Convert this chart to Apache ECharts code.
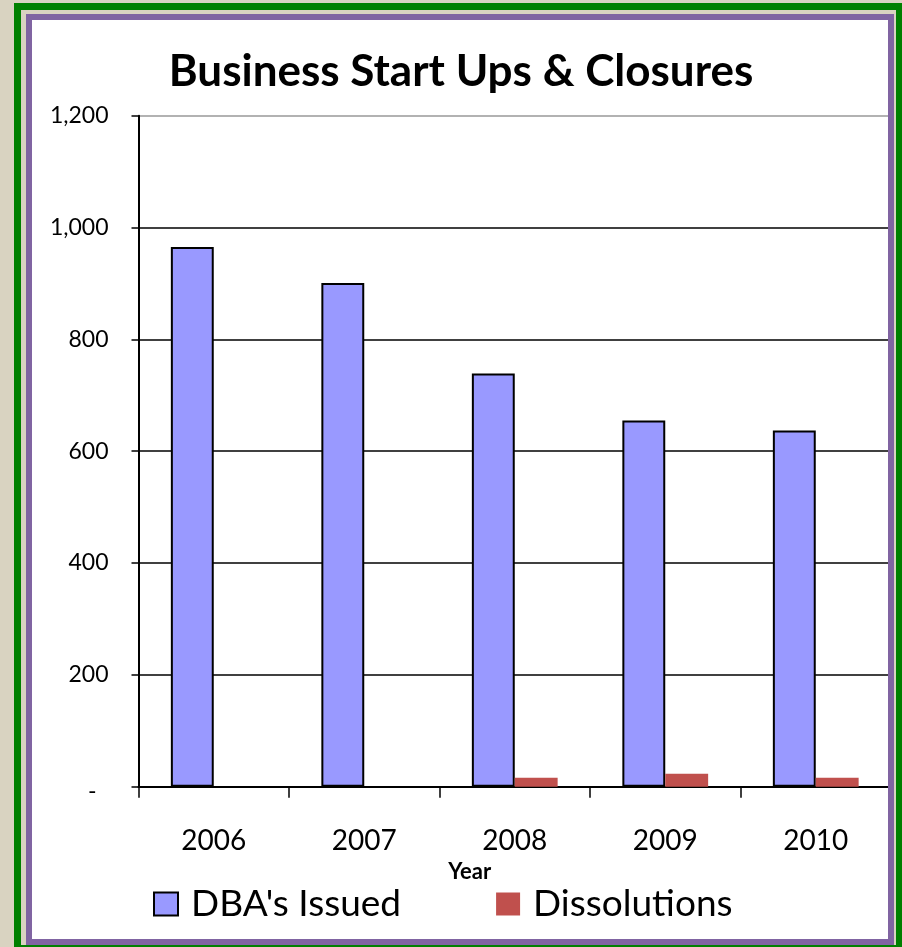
<!DOCTYPE html>
<html>
<head>
<meta charset="utf-8">
<script src="https://cdn.jsdelivr.net/npm/echarts@6/dist/echarts.min.js"></script>
<style>
  html, body { margin: 0; padding: 0; width: 902px; height: 947px; overflow: hidden; background: #d9d3c1; }
  #frameGreen { position: absolute; left: 14px; top: 3px; width: 875px; height: 935px; border: 7px solid #008000; }
  #paper { position: absolute; left: 32px; top: 20px; width: 856px; height: 919px; background: #ffffff; }
  #framePurple { position: absolute; left: 26px; top: 14px; width: 856px; height: 919px; border: 6px solid #8064a2; pointer-events: none; }
  #chart { position: absolute; left: 0; top: 0; width: 902px; height: 947px; }
</style>
</head>
<body>
<div id="frameGreen"></div>
<div id="paper"></div>
<div id="chart"></div>
<div id="framePurple"></div>
<script>
// Business registrations per year
const years = ['2006', '2007', '2008', '2009', '2010'];
const dbaIssued = [965, 901, 739, 655, 637];
const dissolutions = [null, null, 16, 23, 16];
const yTicks = { min: 0, max: 1200, step: 200 };

const FONT = 'Lato';

function yLabel(v) {
  if (v === 0) return '{z|-}';
  return v.toLocaleString('en-US');
}

const chart = echarts.init(document.getElementById('chart'), null, { renderer: 'canvas' });
chart.setOption({
  backgroundColor: 'transparent',
  animation: false,
  textStyle: { fontFamily: FONT },
  title: {
    text: 'Business Start Ups & Closures',
    left: 456,
    textAlign: 'center',
    top: 44,
    textStyle: { fontFamily: FONT, fontWeight: 'bold', fontSize: 44, lineHeight: 46, color: '#000' }
  },
  legend: {
    left: 148,
    top: 879,
    itemWidth: 24,
    itemHeight: 23,
    itemGap: 95,
    icon: 'rect',
    textStyle: { fontFamily: FONT, fontSize: 37, lineHeight: 40, color: '#000', padding: [0, 0, 0, 8] },
    data: ["DBA's Issued", 'Dissolutions']
  },
  grid: { left: 138.5, right: 11, top: 115.7, bottom: 160.3, containLabel: false },
  xAxis: {
    type: 'category',
    data: years,
    name: 'Year',
    nameLocation: 'middle',
    nameGap: 74,
    nameTextStyle: { fontFamily: FONT, fontWeight: 'bold', fontSize: 22, color: '#000', padding: [0, 90, 0, 0] },
    axisLine: { show: true, lineStyle: { color: '#000', width: 2 } },
    axisTick: { show: true, interval: 0, length: 11, lineStyle: { color: '#000', width: 1.5 } },
    axisLabel: { margin: 40, fontFamily: FONT, fontSize: 28, lineHeight: 28, color: '#000' }
  },
  yAxis: {
    type: 'value',
    min: yTicks.min,
    max: yTicks.max,
    interval: yTicks.step,
    axisLine: { show: true, lineStyle: { color: '#000', width: 2 } },
    axisTick: { show: true, length: 7, lineStyle: { color: '#000', width: 1.5 } },
    axisLabel: {
      margin: 30,
      fontFamily: FONT,
      fontSize: 23,
      color: '#000',
      formatter: yLabel,
      rich: { z: { fontFamily: FONT, fontSize: 23, color: '#000', padding: [10, 12, 0, 0] } }
    },
    splitLine: {
      show: true,
      lineStyle: { color: ['#000', '#000', '#000', '#000', '#000', '#000', '#999'], width: 1.5 }
    }
  },
  series: [
    {
      name: "DBA's Issued",
      type: 'bar',
      data: dbaIssued,
      barGap: '0%',
      barCategoryGap: '43%',
      itemStyle: { color: '#9999ff', borderColor: '#000', borderWidth: 2 }
    },
    {
      name: 'Dissolutions',
      type: 'bar',
      data: dissolutions,
      barGap: '0%',
      barCategoryGap: '43%',
      itemStyle: { color: '#c0504d' }
    }
  ]
});
</script>
</body>
</html>
